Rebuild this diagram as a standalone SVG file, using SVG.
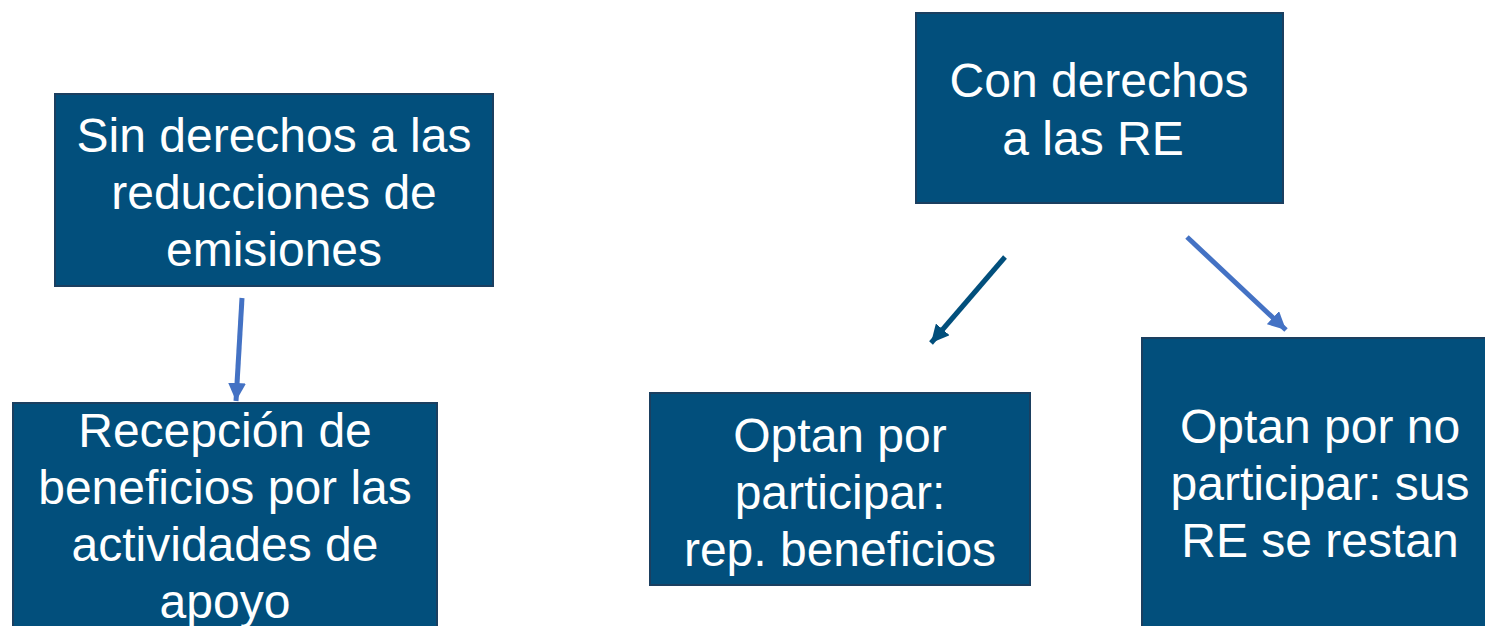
<svg xmlns="http://www.w3.org/2000/svg" width="1485" height="626" viewBox="0 0 1485 626">
<style>
.box{fill:#024F7C;stroke:#1B3F60;stroke-width:2}
.t{font-family:"Liberation Sans",Arial,sans-serif;font-size:48px;fill:#ffffff;text-anchor:middle}
.c1{fill:none;stroke:#4472C4;stroke-width:5}
.c2{fill:none;stroke:#024F7C;stroke-width:5}
</style>
<defs>
<marker id="ah1" markerUnits="userSpaceOnUse" markerWidth="20" markerHeight="18" refX="18" refY="9" orient="auto">
<path d="M0,0 L18,9 L0,18 Z" fill="#4472C4"/>
</marker>
<marker id="ah2" markerUnits="userSpaceOnUse" markerWidth="20" markerHeight="18" refX="18" refY="9" orient="auto">
<path d="M0,0 L18,9 L0,18 Z" fill="#024F7C"/>
</marker>
</defs>
<rect width="1485" height="626" fill="#ffffff"/>
<g id="n1">
<rect class="box" x="55" y="94" width="438" height="192"/>
<text class="t" x="274" y="152">Sin derechos a las</text>
<text class="t" x="274" y="209">reducciones de</text>
<text class="t" x="274" y="266">emisiones</text>
</g>
<g id="n2">
<rect class="box" x="13" y="403" width="424" height="240"/>
<text class="t" x="225" y="447">Recepción de</text>
<text class="t" x="225" y="504">beneficios por las</text>
<text class="t" x="225" y="561">actividades de</text>
<text class="t" x="225" y="618">apoyo</text>
</g>
<g id="n3">
<rect class="box" x="916" y="13" width="367" height="190"/>
<text class="t" x="1099" y="97">Con derechos</text>
<text class="t" x="1093" y="155">a las RE</text>
</g>
<g id="n4">
<rect class="box" x="650" y="393" width="380" height="192"/>
<text class="t" x="840" y="452">Optan por</text>
<text class="t" x="840" y="509">participar:</text>
<text class="t" x="840" y="566">rep. beneficios</text>
</g>
<g id="n5">
<rect class="box" x="1142" y="338" width="360" height="300"/>
<text class="t" x="1320" y="443">Optan por no</text>
<text class="t" x="1320" y="500">participar: sus</text>
<text class="t" x="1320" y="557">RE se restan</text>
</g>
<g id="connectors">
<line class="c1" x1="242" y1="298" x2="236" y2="401" marker-end="url(#ah1)"/>
<line class="c2" x1="1005" y1="257" x2="931" y2="343" marker-end="url(#ah2)"/>
<line class="c1" x1="1187" y1="237" x2="1286" y2="330" marker-end="url(#ah1)"/>
</g>
</svg>
